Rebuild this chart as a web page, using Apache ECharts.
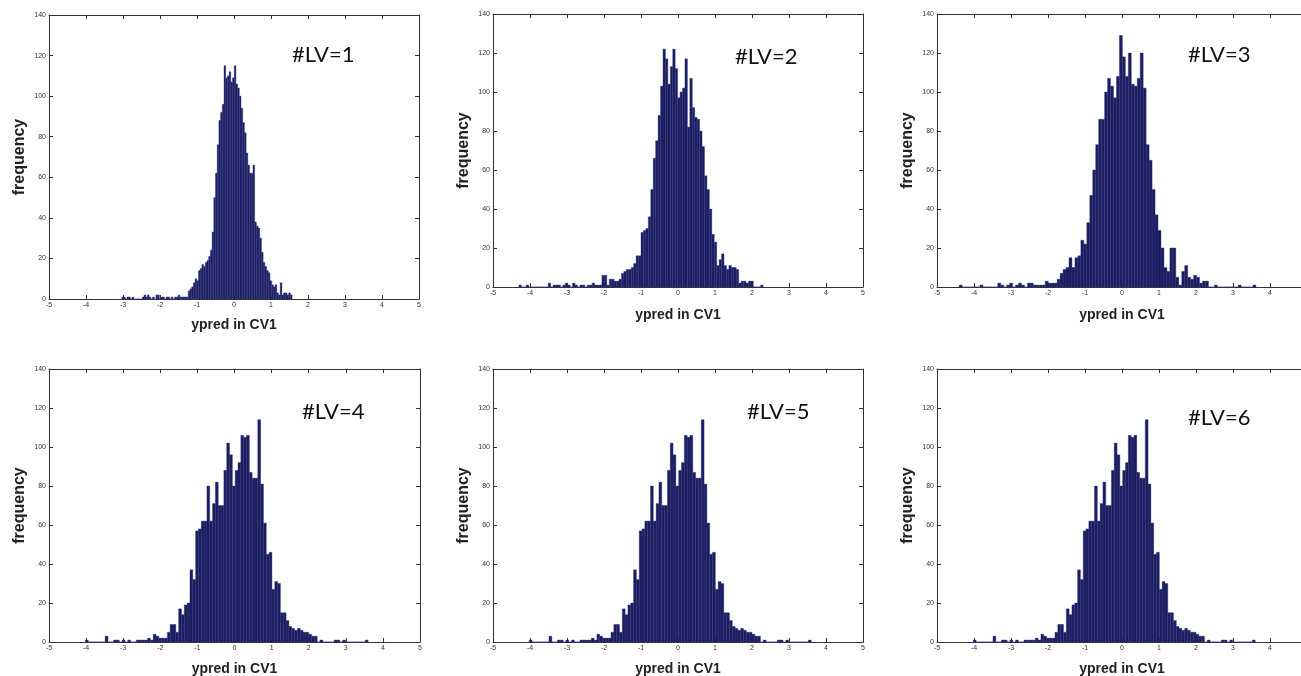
<!DOCTYPE html>
<html><head><meta charset="utf-8">
<script src="https://cdn.jsdelivr.net/npm/echarts@6/dist/echarts.min.js"></script>
<style>html,body{margin:0;padding:0;background:#fff;overflow:hidden}#c{width:1301px;height:676px}</style>
</head><body><div id="c"></div>
<script>
// ---------- data ----------
const xTickLabels = ['-5','-4','-3','-2','-1','0','1','2','3','4','5'];
const yTickLabels = ['0','20','40','60','80','100','120','140'];
const panelTitles = ['#LV=1','#LV=2','#LV=3','#LV=4','#LV=5','#LV=6'];
const xAxisName = 'ypred in CV1';
const yAxisName = 'frequency';

// data range of each histogram (100 equal bins between these)
const lv1Range = [-3.03, 1.57];
const lv2Range = [-4.30, 2.30];
const lv3Range = [-4.40, 3.62];
const lv4Range = [-4.02, 3.60];
const lv5Range = [-4.02, 3.60];
const lv6Range = [-4.02, 3.60];

const lv1Counts = [1,1,0,1,1,0,1,0,0,0, 0,0,1,2,1,2,1,0,1,0, 2,2,0,1,1,0,1,1,0,1, 0,1,1,2,1,1,1,1,1,4,
  5,6,8,10,9,14,15,17,16,18, 19,21,24,33,50,62,76,88,92,96, 115,109,110,112,107,109,115,106,104,100,
  94,87,82,72,66,62,62,66,38,36, 35,30,23,18,16,14,13,9,7,6, 7,3,2,8,2,3,3,2,3,2];
const lv2Counts = [1,0,0,1,0,0,0,0,0,0, 0,0,2,0,1,1,1,0,1,2, 1,0,2,1,0,1,1,0,1,1, 2,1,1,1,6,6,1,4,4,3,
  3,4,7,8,9,9,10,12,16,16, 28,29,30,36,50,66,75,88,103,122, 117,104,113,122,112,97,100,102,117,82,
  107,92,87,86,80,72,57,50,40,27, 23,11,14,17,11,9,11,10,10,9, 2,3,3,2,3,3,0,0,0,1];
const lv3Counts = [1,0,0,0,0,0,0,1,0,0, 0,0,0,2,1,0,1,2,0,1, 2,1,0,2,2,1,1,1,1,3, 2,2,2,4,7,9,10,15,10,15,
  16,24,22,33,47,60,73,86,86,100, 107,103,97,108,129,118,108,120,104,103, 107,120,102,73,65,50,37,29,20,10,
  8,20,20,5,1,8,11,5,4,6, 5,2,3,3,0,0,1,0,0,0, 0,0,0,0,1,0,0,0,0,1];
const lv4Counts = [1,0,0,0,0,0,0,3,0,0, 1,1,0,1,0,1,0,0,1,1, 1,1,2,1,4,3,2,2,2,5, 9,9,5,17,14,19,20,37,32,57,
  58,62,62,80,62,71,82,70,70,88, 102,96,80,88,92,106,105,106,87,84, 84,114,81,61,45,46,27,31,30,15,
  15,11,8,7,6,7,6,5,5,4, 3,3,0,1,0,0,0,0,1,1, 0,1,0,0,0,0,0,0,0,1];
const lv5Counts = [1,0,0,0,0,0,0,3,0,0, 1,1,0,1,0,1,0,0,1,1, 1,1,2,1,4,3,2,2,2,5, 9,9,5,17,14,19,20,37,32,57,
  58,62,62,80,62,71,82,70,70,88, 102,96,80,88,92,106,105,106,87,84, 84,114,81,61,45,46,27,31,30,15,
  15,11,8,7,6,7,6,5,5,4, 3,3,0,1,0,0,0,0,1,1, 0,1,0,0,0,0,0,0,0,1];
const lv6Counts = [1,0,0,0,0,0,0,3,0,0, 1,1,0,1,0,1,0,0,1,1, 1,1,2,1,4,3,2,2,2,5, 9,9,5,17,14,19,20,37,32,57,
  58,62,62,80,62,71,82,70,70,88, 102,96,80,88,92,106,105,106,87,84, 84,114,81,61,45,46,27,31,30,15,
  15,11,8,7,6,7,6,5,5,4, 3,3,0,1,0,0,0,0,1,1, 0,1,0,0,0,0,0,0,0,1];

const allRanges = [lv1Range, lv2Range, lv3Range, lv4Range, lv5Range, lv6Range];
const allCounts = [lv1Counts, lv2Counts, lv3Counts, lv4Counts, lv5Counts, lv6Counts];

// ---------- layout ----------
const gridBoxes = [
  {left:49,  top:15,  width:370, height:284},
  {left:493, top:14,  width:370, height:273},
  {left:937, top:14,  width:370, height:273},
  {left:49,  top:369, width:371, height:273},
  {left:493, top:369, width:370, height:273},
  {left:937, top:369, width:370, height:273}
];
const titlePos = [[292,55],[735,57],[1188,55],[302,412],[747,412],[1188,418]];
const xNameGaps = [19,21,21,20,20,20];

const AX = '#333';
const FONT = 'Liberation Sans, Arial, sans-serif';
const xMin = Number(xTickLabels[0]), xMax = Number(xTickLabels[xTickLabels.length-1]);
const xInt = Number(xTickLabels[1]) - xMin;
const yMin = Number(yTickLabels[0]), yMax = Number(yTickLabels[yTickLabels.length-1]);
const yInt = Number(yTickLabels[1]) - yMin;

function binData(range, counts){
  const n = counts.length, w = (range[1]-range[0])/n;
  return counts.map((c,k)=>[range[0]+k*w, range[0]+(k+1)*w, c]);
}
function renderBar(params, api){
  const p0 = api.coord([api.value(0), api.value(2)]);
  const p1 = api.coord([api.value(1), 0]);
  return {type:'rect', shape:{x:p0[0], y:p0[1], width:p1[0]-p0[0], height:p1[1]-p0[1]},
    style:{fill:'#1b1e5c', stroke:'#2a2f86', lineWidth:0.4}};
}

const grids=[], xAxes=[], yAxes=[], series=[], graphics=[];
gridBoxes.forEach((g,i)=>{
  grids.push(Object.assign({containLabel:false, outerBoundsMode:'none'}, g));
  const common = {gridIndex:i, type:'value', splitLine:{show:false},
    axisLine:{show:true, onZero:false, lineStyle:{color:AX, width:1}},
    axisTick:{show:true, inside:true, length:4, lineStyle:{color:AX, width:1}}};
  xAxes.push(Object.assign({}, common, {position:'bottom', min:xMin, max:xMax, interval:xInt,
    axisLabel:{fontSize:7, color:'#333', margin:3, fontFamily:FONT},
    name:xAxisName, nameLocation:'middle', nameGap:xNameGaps[i],
    nameTextStyle:{fontSize:14, fontWeight:'bold', color:'#222', fontFamily:FONT}}));
  xAxes.push(Object.assign({}, common, {position:'top', min:xMin, max:xMax, interval:xInt,
    axisLabel:{show:false}}));
  yAxes.push(Object.assign({}, common, {position:'left', min:yMin, max:yMax, interval:yInt,
    axisLabel:{fontSize:7, color:'#333', margin:3, fontFamily:FONT},
    name:yAxisName, nameLocation:'middle', nameGap:21, nameRotate:90,
    nameTextStyle:{fontSize:16, fontWeight:'bold', color:'#222', fontFamily:FONT}}));
  yAxes.push(Object.assign({}, common, {position:'right', min:yMin, max:yMax, interval:yInt,
    axisLabel:{show:false}}));
  series.push({type:'custom', name:panelTitles[i], xAxisIndex:2*i, yAxisIndex:2*i,
    data:binData(allRanges[i], allCounts[i]), renderItem:renderBar,
    encode:{x:[0,1], y:2}, silent:true, animation:false});
  graphics.push({type:'text', x:titlePos[i][0], y:titlePos[i][1],
    style:{text:panelTitles[i], fontSize:22, fontFamily:'Lato, Open Sans, sans-serif', fill:'#111',
      verticalAlign:'middle', align:'left'}});
});

const chart = echarts.init(document.getElementById('c'), null, {renderer:'canvas'});
chart.setOption({animation:false, backgroundColor:'#fff', grid:grids, xAxis:xAxes, yAxis:yAxes,
  series:series, graphic:graphics});
</script></body></html>
